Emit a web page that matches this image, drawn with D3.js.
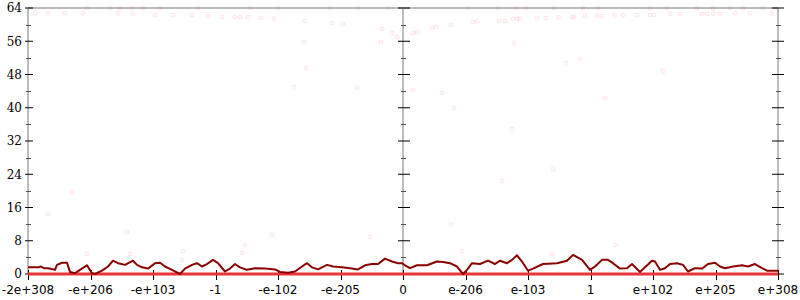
<!DOCTYPE html>
<html>
<head>
<meta charset="utf-8">
<script src="https://cdn.jsdelivr.net/npm/d3@7"></script>
<style>
body { margin: 0; background: #fff; }
svg { display: block; }
.ylab { font-family: "DejaVu Serif", serif; font-size: 12px; }
.xlab { font-family: "DejaVu Sans", sans-serif; font-size: 12px; }
</style>
</head>
<body>
<div id="container"></div>
<script>
// x is a bin index across the whole float range (0 .. 750), 12 equal intervals
var xTickLabels = ["-2e+308", "-e+206", "-e+103", "-1", "-e-102", "-e-205", "0",
                   "e-206", "e-103", "1", "e+102", "e+205", "e+308"];
var yTicks = [0, 8, 16, 24, 32, 40, 48, 56, 64];

// main series: [bin, value]
var lineData = [
  [0,1.6],[10,1.6],[13,1.8],[16,1.4],[20,1.4],[27,1.0],[29,2.2],[34,2.7],[39,2.7],
  [42,0.5],[47,0.2],[52,1.0],[59,2.1],[64,0.2],[67,0],[74,0.8],[80,1.8],[85,3.2],
  [90,2.6],[97,2.2],[105,3.2],[109,2.2],[114,1.6],[120,1.3],[127,2.6],[132,2.7],
  [137,1.8],[144,1.0],[152,0],[157,1.3],[164,2.2],[169,2.6],[174,1.8],[179,2.4],
  [185,3.4],[190,2.6],[197,0.6],[202,1.3],[207,2.4],[212,1.6],[219,1.0],[227,1.4],
  [237,1.3],[247,1.1],[252,0.5],[260,0.3],[267,0.6],[274,1.8],[279,2.6],[284,1.6],
  [290,1.1],[299,2.2],[305,1.8],[314,1.6],[322,1.4],[330,1.1],[337,2.1],[344,2.4],
  [350,2.4],[357,3.7],[364,3.0],[370,2.6],[374,2.6],[377,2.1],[382,1.4],[389,2.1],
  [399,2.1],[409,3.0],[415,2.9],[422,2.6],[429,1.8],[435,0],[439,1.0],[444,2.6],
  [452,2.4],[460,3.2],[467,2.4],[472,3.2],[479,2.6],[484,3.4],[489,4.5],[494,3.0],
  [500,0.8],[505,1.3],[515,2.4],[529,2.6],[539,3.2],[545,4.6],[554,3.4],[562,1.0],
  [567,1.8],[574,3.4],[580,3.4],[585,2.6],[592,1.3],[599,1.4],[604,2.4],[612,0.5],
  [617,1.6],[624,3.2],[627,3.0],[632,1.0],[637,1.4],[642,2.4],[649,2.6],[655,2.2],
  [660,0.6],[667,1.4],[674,1.3],[680,2.4],[687,2.7],[692,1.8],[697,1.4],[705,1.8],
  [714,2.1],[720,1.8],[727,2.4],[734,1.4],[739,0.8],[750,0.8]
];

// lower series: flat at zero
var minData = [[0,0],[750,0]];

// faint outlier points: [bin, value]
var dotData = [
  [7,62.8],[20,62.8],[37,62.8],[55,62.8],[59,64],[82,64],[90,62.8],[92,64],[104,64],
  [105,62.6],[115,64],[127,62.3],[132,64],[145,62.3],[164,62.3],[180,62.1],[194,61.8],
  [207,61.8],[212,61.8],[220,61.8],[233,61.6],[246,61.4],[277,60.9],[304,60.4],
  [315,60.2],[354,59.0],[364,58.0],[369,57.0],[353,55.8],[276,55.8],[278,49.6],
  [266,45.0],[329,44.8],[385,58.0],[389,58.2],[404,59.2],[408,59.4],[423,59.9],
  [445,60.6],[449,60.9],[471,60.9],[477,60.9],[485,61.4],[489,61.4],[492,61.4],
  [509,61.6],[518,61.6],[531,61.8],[544,61.8],[546,61.8],[557,62.1],[569,62.1],
  [486,55.6],[538,50.8],[552,51.7],[385,44.3],[414,43.6],[574,62.1],[587,62.3],
  [595,62.3],[609,62.3],[622,62.3],[626,62.3],[642,62.6],[652,62.6],[674,62.6],
  [679,62.6],[685,62.6],[692,62.6],[707,62.8],[722,62.8],[744,62.8],[635,48.8],
  [577,42.3],[44,19.7],[20,14.4],[426,39.9],[484,34.9],[525,25.3],[474,22.4],
  [423,12.0],[99,10.1],[244,9.4],[342,8.9],[59,4.8],[102,4.8],[155,5.5],[154,3.4],
  [217,7.0],[214,5.1],[434,5.5],[524,4.8],[587,7.0],[170,64],[222,64],[250,64],
  [302,64],[330,64],[360,64],[440,64],[470,64],[488,64],[498,64],[526,64],[555,64],
  [570,64],[622,64],[639,64],[669,64],[685,64],[702,64],[715,64],[735,64]
];

var width = 800, height = 300;
var plotLeft = 28, plotRight = 778, plotTop = 8, plotBottom = 274;

var x = d3.scaleLinear().domain([0, 750]).range([plotLeft, plotRight]);
var y = d3.scaleLinear().domain([0, 64]).range([plotBottom, plotTop]);

var svg = d3.select("#container").append("svg")
    .attr("width", width)
    .attr("height", height);

// frame lines
svg.append("line")
    .attr("x1", plotLeft).attr("x2", plotRight)
    .attr("y1", y(64)).attr("y2", y(64))
    .attr("stroke", "#bbb").attr("stroke-width", 2);
svg.append("line")
    .attr("x1", plotLeft).attr("x2", plotRight)
    .attr("y1", y(0)).attr("y2", y(0))
    .attr("stroke", "#bbb").attr("stroke-width", 2);

// vertical axes: left, middle, right
var vAxes = [{bin: 0, l: 3, r: 5, ml: 2, mr: 3}, {bin: 375, l: 5, r: 7, ml: 2, mr: 3},
             {bin: 750, l: 6, r: 6, ml: 2, mr: 3}];
var minorTicks = d3.range(4, 64, 8);

vAxes.forEach(function(a){
    var ax = x(a.bin);
    svg.append("line")
        .attr("x1", ax).attr("x2", ax)
        .attr("y1", y(64)).attr("y2", y(0))
        .attr("stroke", "#bbb").attr("stroke-width", 2);
    svg.selectAll(null).data(yTicks).enter().append("line")
        .attr("x1", ax - a.l).attr("x2", ax + a.r)
        .attr("y1", function(d){ return y(d); })
        .attr("y2", function(d){ return y(d); })
        .attr("stroke", "#000").attr("stroke-width", 1);
    svg.selectAll(null).data(minorTicks).enter().append("line")
        .attr("x1", ax - a.ml).attr("x2", ax + a.mr)
        .attr("y1", function(d){ return Math.round(y(d)) + 0.5; })
        .attr("y2", function(d){ return Math.round(y(d)) + 0.5; })
        .attr("stroke", "#555").attr("stroke-width", 1);
});

// y labels
svg.selectAll(".ylab").data(yTicks).enter().append("text")
    .attr("class", "ylab")
    .attr("x", plotLeft - 6)
    .attr("y", function(d){ return y(d); })
    .attr("dy", "0.36em")
    .attr("text-anchor", "end")
    .text(function(d){ return d; });

// x ticks and labels
var xTickVals = d3.range(0, 751, 62.5);
svg.selectAll(".xtick").data(xTickVals).enter().append("line")
    .attr("class", "xtick")
    .attr("x1", function(d){ return Math.round(x(d)) + 0.5; })
    .attr("x2", function(d){ return Math.round(x(d)) + 0.5; })
    .attr("y1", y(0) - 4).attr("y2", y(0) + 6)
    .attr("stroke", "#000").attr("stroke-width", 1);

svg.selectAll(".xlab").data(xTickVals).enter().append("text")
    .attr("class", "xlab")
    .attr("x", function(d){ return x(d); })
    .attr("y", 294)
    .attr("text-anchor", "middle")
    .text(function(d, i){ return xTickLabels[i]; });

// faint points (pale rings)
svg.append("g").selectAll("circle").data(dotData).enter().append("circle")
    .attr("cx", function(d){ return x(d[0]); })
    .attr("cy", function(d){ return y(d[1]); })
    .attr("r", 2)
    .attr("fill", "#e33")
    .attr("fill-opacity", 0.03)
    .attr("stroke", "#e33")
    .attr("stroke-opacity", 0.1);

var line = d3.line()
    .x(function(d){ return x(d[0]); })
    .y(function(d){ return y(d[1]); });

svg.append("path")
    .datum(minData)
    .attr("d", line)
    .attr("fill", "none")
    .attr("stroke", "#e8343a")
    .attr("stroke-width", 3);

svg.append("path")
    .datum(lineData)
    .attr("d", line)
    .attr("fill", "none")
    .attr("stroke", "#8b0000")
    .attr("stroke-width", 2)
    .attr("stroke-linejoin", "round");
</script>
</body>
</html>
